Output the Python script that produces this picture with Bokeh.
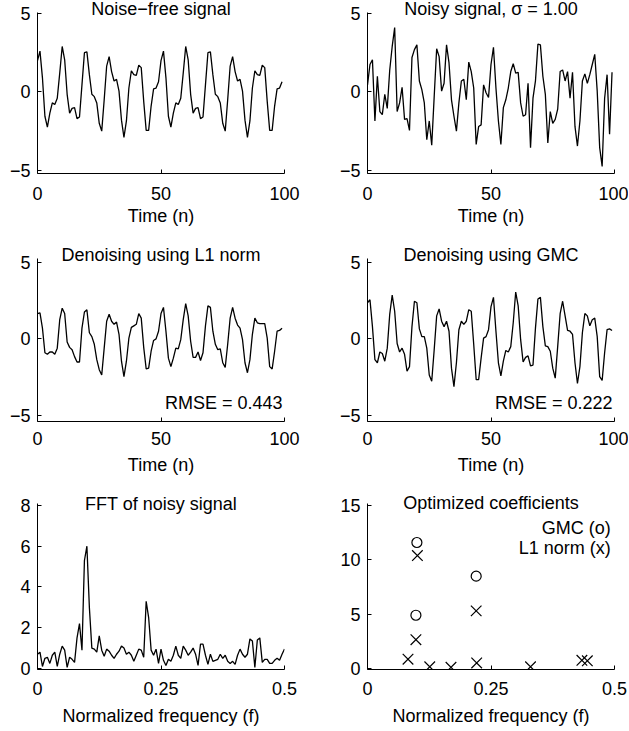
from bokeh.plotting import figure
from bokeh.layouts import column, row
from bokeh.models import Range1d, FixedTicker, Label, NumeralTickFormatter
from bokeh.embed import file_html
from bokeh.resources import INLINE

FONT = "Liberation Sans"
FS = "18px"

# ---------------- data ----------------
n = list(range(100))

clean = [2.0, 2.6, 0.9, -1.55, -2.25, -1.35, -0.7, -0.8, -0.4, 1.2,
         2.9, 2.05, -0.15, -1.35, -1.05, -1.0, -1.7, -1.6, 0.45, 2.5,
         2.55, 1.1, -0.15, -0.3, -0.7, -2.0, -2.5, -0.5, 1.65, 2.25,
         1.3, 0.7, 0.8, 0.05, -1.8, -2.9, -1.85, 0.25, 1.35, 1.1,
         1.05, 1.7, 1.55, -0.6, -2.45, -2.45, -0.9, 0.2, 0.25, 0.65,
         2.0, 2.6, 0.9, -1.55, -2.25, -1.35, -0.7, -0.8, -0.4, 1.2,
         2.9, 2.05, -0.15, -1.35, -1.05, -1.0, -1.7, -1.6, 0.45, 2.5,
         2.55, 1.1, -0.15, -0.3, -0.7, -2.0, -2.5, -0.5, 1.65, 2.25,
         1.3, 0.7, 0.8, 0.05, -1.8, -2.9, -1.85, 0.25, 1.35, 1.1,
         1.05, 1.7, 1.55, -0.6, -2.45, -2.45, -0.9, 0.2, 0.25, 0.65]

noisy = [0.45, 1.75, 2.05, -1.85, 1.0, -1.25, -1.45, -0.15, -1.05, 1.4,
         2.9, 4.1, -1.25, -0.7, 0.3, -1.75, -1.7, -2.45, 2.2, 2.7,
         3.0, 0.7, 0.15, -0.7, -3.05, -1.85, -3.4, -0.3, 2.75, 2.25,
         0.05, 0.55, 3.0, 1.85, -0.5, -1.55, -2.5, -0.7, 0.7, 0.8,
         -0.5, 1.9, 1.3, 0.25, -3.35, -2.2, -2.1, 0.45, -0.05, -0.35,
         1.75, 2.85, 0.25, -1.85, -3.35, -1.0, -0.5, 0.25, 1.3, 1.8,
         1.2, 1.25, -0.7, -1.55, -1.45, 0.55, -3.55, -0.4, 0.7, 3.05,
         3.0, 1.0, -0.15, -3.25, -1.25, -2.0, -1.75, -1.1, 1.3, 1.4,
         0.7, 1.3, -0.4, 1.25, -2.2, -3.45, -1.85, 0.7, 1.15, 0.55,
         1.1, 1.75, 2.4, 0.05, -3.55, -4.75, -0.4, 1.1, -2.7, 1.25]

l1_denoised = [1.65, 1.7, 0.7, -0.9, -1.0, -0.85, -0.85, -1.0, -0.6, 1.25,
               2.0, 1.65, -0.2, -0.55, -0.7, -1.15, -1.5, -1.5, 0.7, 1.75,
               1.9, 0.4, 0.15, -0.35, -1.35, -2.0, -2.35, -0.6, 1.15, 1.6,
               1.15, 0.95, 1.1, 0.3, -1.45, -2.45, -1.45, 0.05, 0.75, 0.85,
               0.95, 1.65, 1.35, -0.55, -1.95, -1.9, -0.8, -0.1, 0.0, 0.5,
               1.65, 2.05, 0.5, -1.25, -1.8, -1.25, -0.6, -0.65, -0.05, 1.25,
               2.3, 1.5, -0.15, -1.2, -1.2, -0.85, -1.4, -0.9, 0.85, 2.15,
               2.05, 0.5, -0.35, -0.7, -0.65, -1.55, -1.85, -0.35, 1.35, 2.05,
               1.35, 0.9, 0.7, -0.05, -1.55, -2.2, -1.35, 0.3, 1.35, 1.05,
               1.0, 1.0, 1.0, 0.05, -1.8, -1.95, -0.8, 0.5, 0.55, 0.7]

gmc_denoised = [2.35, 2.55, 0.8, -1.35, -1.55, -0.85, -0.95, -1.45, -0.6, 1.6,
                2.85, 1.8, -0.3, -0.85, -0.6, -1.0, -2.1, -1.8, 0.8, 2.45,
                2.35, 0.65, 0.15, 0.15, -0.6, -2.35, -2.75, -0.7, 1.5, 1.95,
                1.15, 0.8, 1.15, 0.5, -1.9, -3.1, -1.55, 0.6, 1.15, 0.95,
                1.15, 1.9, 1.8, -0.35, -2.65, -2.65, -1.25, 0.05, 0.15, 0.6,
                2.1, 2.7, 0.5, -1.55, -2.4, -1.45, -0.75, -0.85, -0.5, 1.05,
                3.05, 2.15, -0.05, -1.5, -1.2, -1.1, -1.75, -1.7, 0.7, 2.6,
                2.7, 0.8, -0.45, -0.5, -0.8, -1.9, -2.55, -0.5, 1.65, 2.45,
                1.5, 0.55, 0.5, 0.3, -1.55, -2.9, -1.8, 0.4, 1.65, 1.5,
                0.85, 1.25, 1.35, 0.15, -2.45, -2.7, -0.9, 0.6, 0.65, 0.55]

fft_bins = list(range(101))
fft_mag = [0.7, 0.8, 0.1, 0.5, 0.55, 0.25, 0.65, 0.8, 0.1, 0.7,
           1.1, 0.9, 0.05, 0.55, 0.45, 0.3, 1.5, 2.2, 0.9, 5.3,
           6.0, 3.0, 1.0, 0.95, 0.8, 1.6, 0.9, 0.6, 0.95, 0.85,
           0.65, 0.5, 0.7, 0.85, 1.1, 1.0, 0.7, 0.8, 0.65, 0.35,
           0.65, 0.95, 0.9, 0.55, 3.3, 2.5, 0.9, 0.65, 0.95, 0.25,
           0.95, 0.4, 0.15, 0.45, 0.35, 0.65, 1.1, 0.65, 0.5, 1.1,
           0.9, 0.65, 0.8, 1.0, 0.7, 0.15, 1.2, 1.2, 0.65, 0.2,
           0.7, 0.35, 0.4, 0.45, 0.7, 0.5, 0.65, 0.35, 0.25, 0.35,
           0.2, 0.65, 0.95, 0.7, 0.55, 0.7, 1.45, 1.35, 0.05, 1.4,
           1.5, 0.3, 0.45, 0.45, 0.25, 0.25, 0.4, 0.5, 0.4, 0.7,
           0.95]
fft_freq = [k / 200 for k in fft_bins]

gmc_freq = [0.100, 0.098, 0.220]
gmc_coef = [11.6, 4.9, 8.5]
l1_freq = [0.101, 0.220, 0.098, 0.082, 0.126, 0.169, 0.221, 0.330, 0.434, 0.445]
l1_coef = [10.4, 5.3, 2.65, 0.85, 0.15, 0.1, 0.5, 0.15, 0.75, 0.7]

titles = ["Noise\u2212free signal", "Noisy signal, \u03c3 = 1.00",
          "Denoising using L1 norm", "Denoising using GMC",
          "FFT of noisy signal", "Optimized coefficients"]
rmse_texts = ["RMSE = 0.443", "RMSE = 0.222"]
legend_texts = ["GMC (o)", "L1 norm (x)"]
time_label = "Time (n)"
freq_label = "Normalized frequency (f)"

time_ticks = [0, 50, 100]
sig_ticks = [-5, 0, 5]
freq_ticks = [0, 0.25, 0.5]
fft_ticks = [0, 2, 4, 6, 8]
coef_ticks = [0, 5, 10, 15]


# ---------------- helpers ----------------
def make_fig(w, h, xr, yr, ybounds, left, right, top, bottom, xticks, yticks,
             xlabel, xstand=10, xlabstand=2, freq=False):
    p = figure(width=w, height=h, x_range=Range1d(*xr), y_range=Range1d(*yr),
               output_backend="svg", toolbar_location=None,
               min_border_left=left, min_border_right=right,
               min_border_top=top, min_border_bottom=bottom)
    p.grid.visible = False
    p.outline_line_color = None
    p.background_fill_color = "white"
    p.border_fill_color = "white"
    for ax in (p.xaxis[0], p.yaxis[0]):
        ax.axis_line_color = "black"
        ax.axis_line_width = 1
        ax.major_tick_in = 4
        ax.major_tick_out = 0
        ax.major_tick_line_color = "black"
        ax.minor_tick_line_color = None
        ax.major_label_text_font = FONT
        ax.major_label_text_font_size = FS
        ax.major_label_text_color = "black"
        ax.axis_label_text_font = FONT
        ax.axis_label_text_font_size = FS
        ax.axis_label_text_font_style = "normal"
        ax.axis_label_text_color = "black"
    p.xaxis.ticker = FixedTicker(ticks=xticks)
    p.yaxis.ticker = FixedTicker(ticks=yticks)
    p.yaxis.bounds = ybounds
    p.xaxis.axis_label = xlabel
    p.xaxis.major_label_standoff = xstand
    p.xaxis.axis_label_standoff = xlabstand
    p.yaxis.major_label_standoff = 7
    if freq:
        p.xaxis.formatter = NumeralTickFormatter(format="0.[00]")
    p.yaxis.major_label_overrides = {-5: "\u22125"}
    return p


def add_text(p, x, y, text, align="center"):
    p.add_layout(Label(x=x, y=y, text=text, text_align=align,
                       text_baseline="middle", text_font=FONT,
                       text_font_size=FS, text_color="black"))


W1, W2 = 315, 313
L1B, R1B = 37, 31
L2B, R2B = 52, 14

# Row 1 (frame reaches the canvas top; axis line limited by bounds)
H1, T1, B1 = 240, 0, 67
yr1 = (-5.2, 5.83)
yb1 = (-5.2, 5.08)
p1 = make_fig(W1, H1, (0, 100), yr1, yb1, L1B, R1B, T1, B1,
              time_ticks, sig_ticks, time_label, xstand=13, xlabstand=3)
p1.line(n, clean, line_color="black", line_width=1.3)
add_text(p1, 50, 5.28, titles[0])

p2 = make_fig(W2, H1, (0, 100), yr1, yb1, L2B, R2B, T1, B1,
              time_ticks, sig_ticks, time_label, xstand=13, xlabstand=3)
p2.line(n, noisy, line_color="black", line_width=1.3)
add_text(p2, 50, 5.28, titles[1])

# Row 2
H2, T2, B2 = 238, 6, 57
yr2 = (-5.37, 6.01)
yb2 = (-5.37, 5.22)
p3 = make_fig(W1, H2, (0, 100), yr2, yb2, L1B, R1B, T2, B2,
              time_ticks, sig_ticks, time_label, xstand=10, xlabstand=7)
p3.line(n, l1_denoised, line_color="black", line_width=1.3)
add_text(p3, 50, 5.43, titles[2])
add_text(p3, 99.2, -4.15, rmse_texts[0], align="right")

p4 = make_fig(W2, H2, (0, 100), yr2, yb2, L2B, R2B, T2, B2,
              time_ticks, sig_ticks, time_label, xstand=10, xlabstand=7)
p4.line(n, gmc_denoised, line_color="black", line_width=1.3)
add_text(p4, 50, 5.43, titles[3])
add_text(p4, 99.2, -4.15, rmse_texts[1], align="right")

# Row 3
H3, T3, B3 = 252, 17, 61
p5 = make_fig(W1, H3, (0, 0.5), (-0.05, 8.49), (-0.05, 8.1), L1B, R1B, T3, B3,
              freq_ticks, fft_ticks, freq_label, xstand=12, xlabstand=8, freq=True)
p5.line(fft_freq, fft_mag, line_color="black", line_width=1.3)
add_text(p5, 0.25, 8.05, titles[4])

p6 = make_fig(W2, H3, (0, 0.5), (-0.1, 15.93), (-0.1, 15.18), L2B, R2B, T3, B3,
              freq_ticks, coef_ticks, freq_label, xstand=12, xlabstand=8, freq=True)
p6.scatter(gmc_freq, gmc_coef, marker="circle", size=10, fill_color=None,
           line_color="black", line_width=1.2)
p6.scatter(l1_freq, l1_coef, marker="x", size=15, line_color="black", line_width=1.2)
add_text(p6, 0.25, 15.2, titles[5])
add_text(p6, 0.4925, 12.95, legend_texts[0], align="right")
add_text(p6, 0.4925, 11.05, legend_texts[1], align="right")

layout = column(row(p1, p2), row(p3, p4), row(p5, p6))

open("out.html", "w").write(file_html(layout, INLINE))
